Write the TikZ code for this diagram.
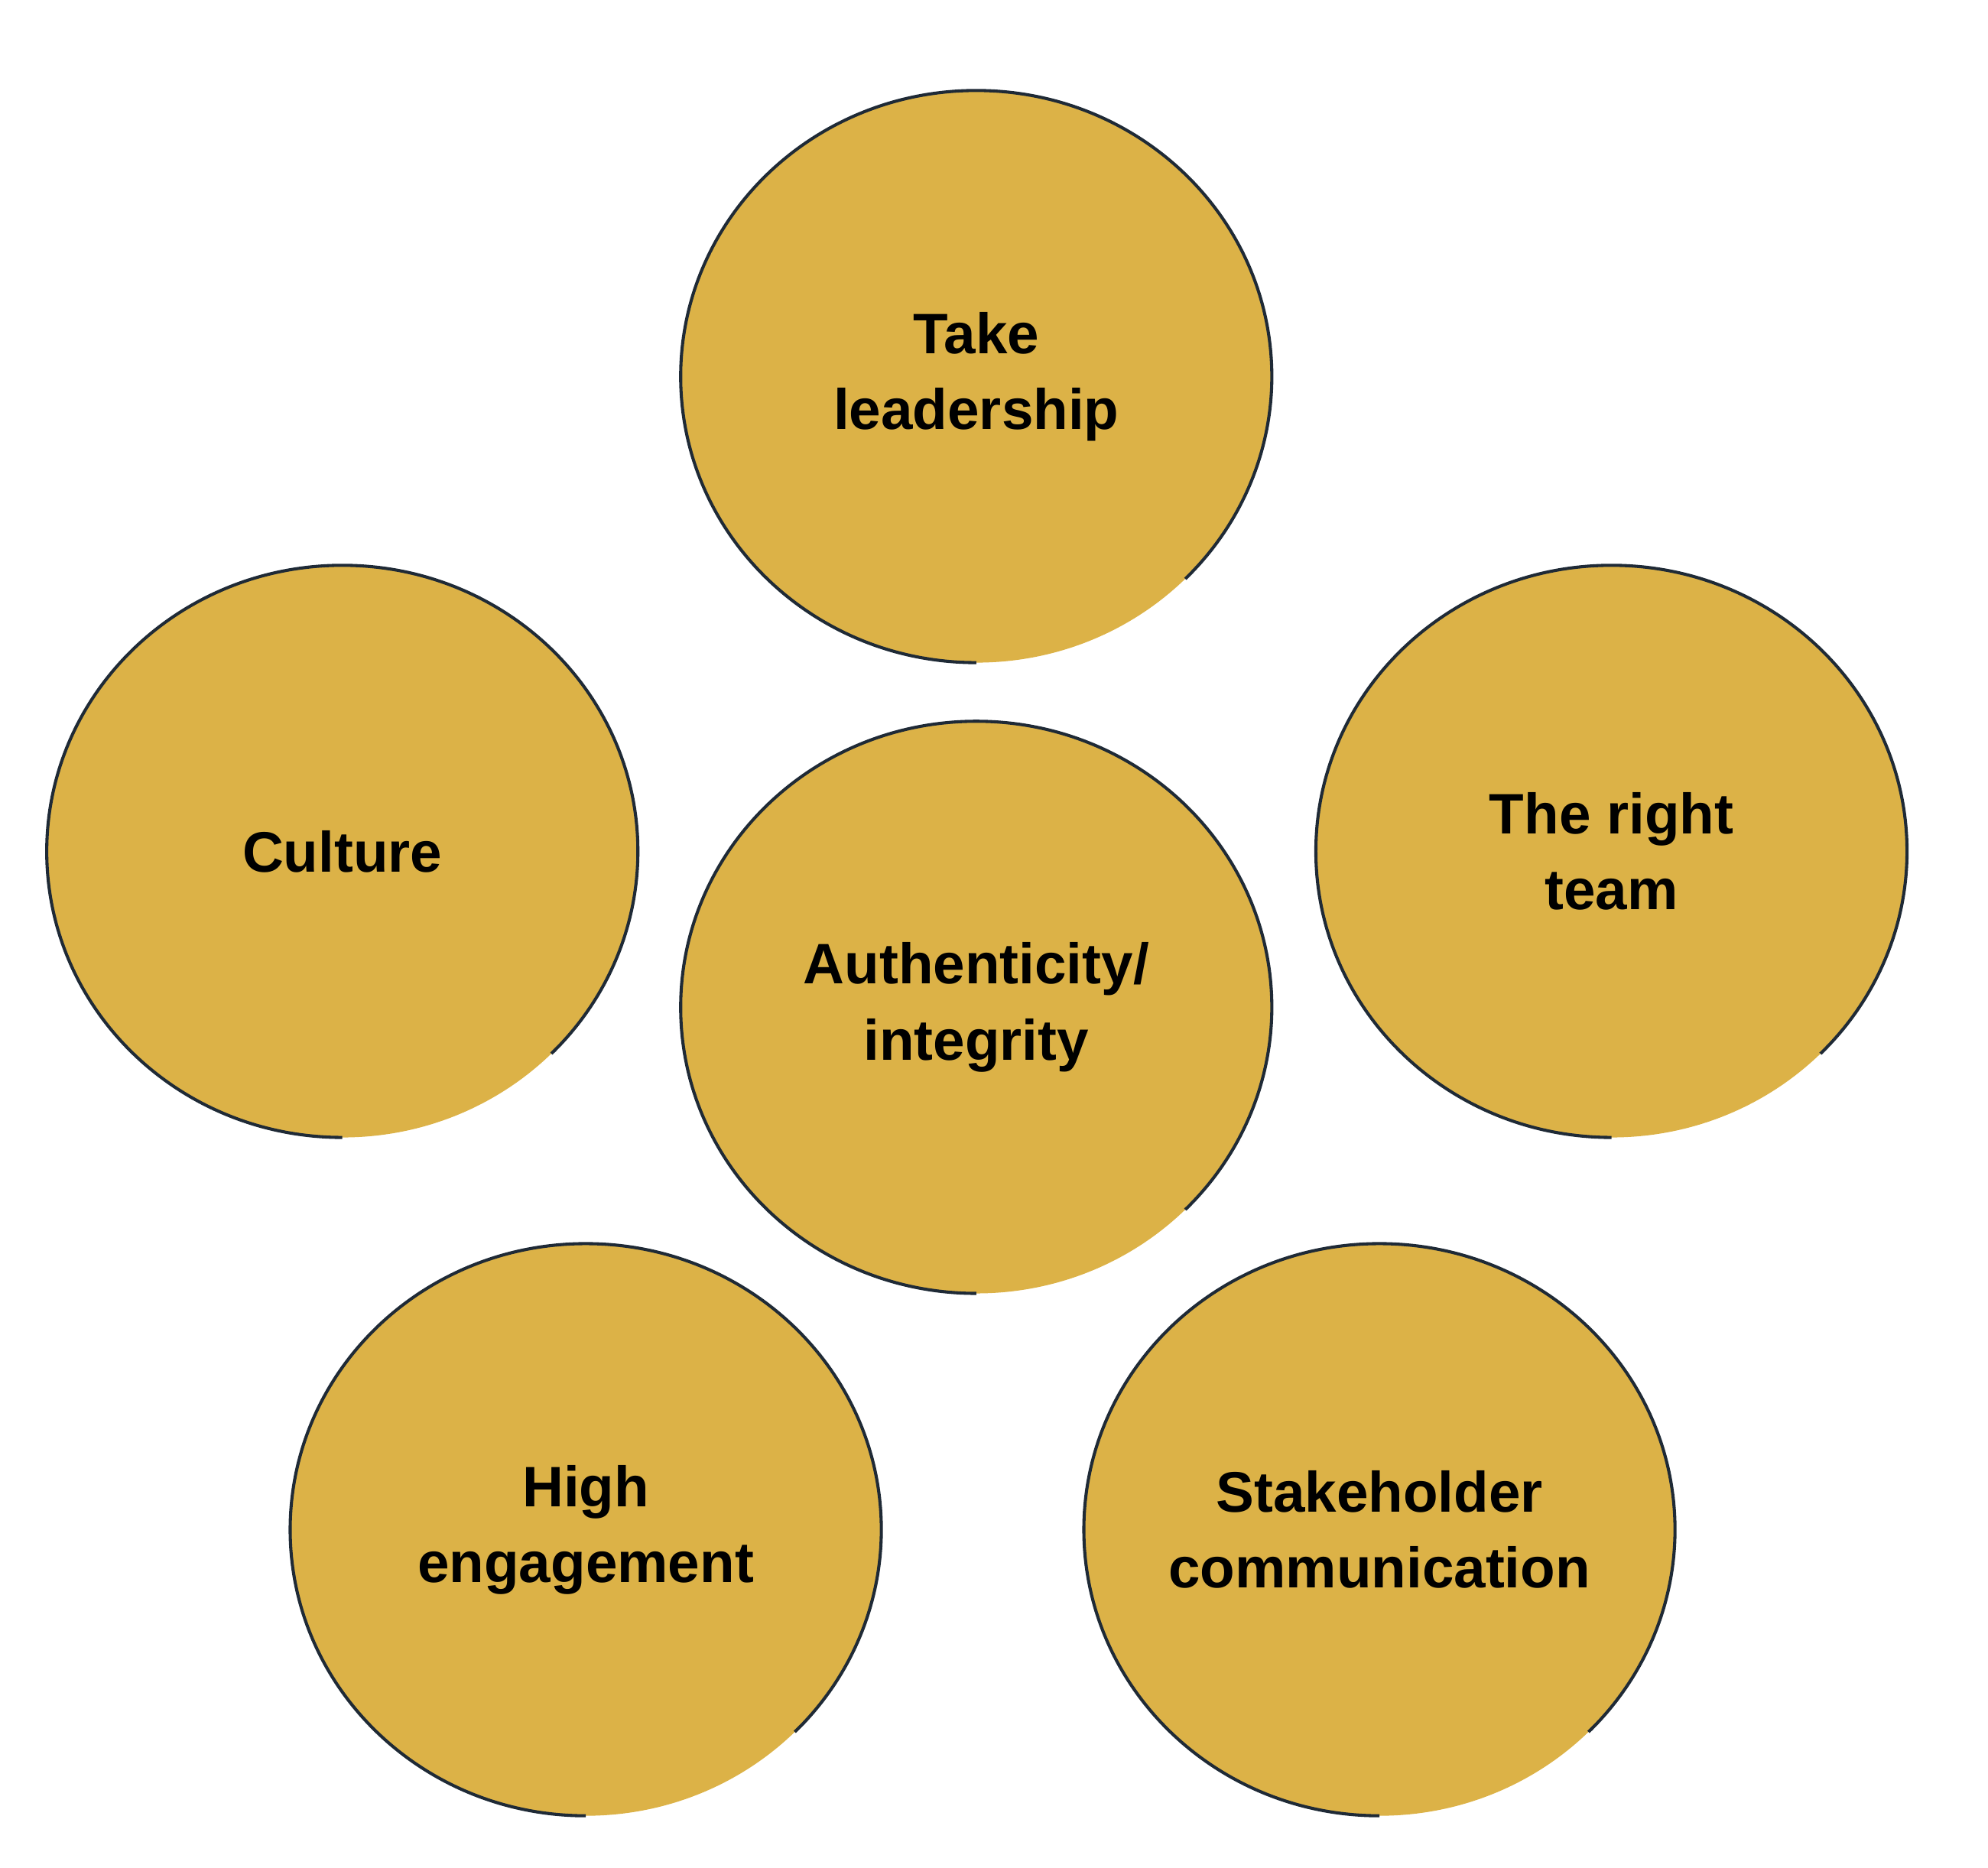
\documentclass[tikz,border=0pt]{standalone}
\usepackage{fontspec}
\setmainfont{Liberation Sans}
\usepackage{tikz}
\usetikzlibrary{shapes.geometric}
\definecolor{gold}{HTML}{DCB247}
\definecolor{rimcol}{HTML}{1F2A36}
\tikzset{disc/.style={ellipse, fill=gold, inner sep=-1.2cm, outer sep=0pt, minimum width=4.66cm, minimum height=4.51cm, align=center, font=\fontsize{12.8}{17}\selectfont\bfseries}}
\tikzset{rim/.style={draw=rimcol, line width=0.7pt}}

\begin{document}
\begin{tikzpicture}[x=0.01cm,y=-0.01cm]
  \useasboundingbox (0,0) rectangle (1568,1473);
  \foreach \x/\y/\nm/\lab in {
    770/297/lead/{Take\\leadership},
    270/671.5/cult/{Culture},
    770/794.5/auth/{Authenticity/\\integrity},
    1271/671.5/team/{The right\\team},
    462/1206.5/enga/{High\\engagement},
    1088/1206.5/stak/{Stakeholder\\communication}%
  } {
    \node[disc] (\nm) at (\x, \y) {\lab};
    \draw[rim] (\nm.south) arc[start angle=270, end angle=-45, x radius=2.33cm, y radius=2.255cm];
  }
\end{tikzpicture}
\end{document}
